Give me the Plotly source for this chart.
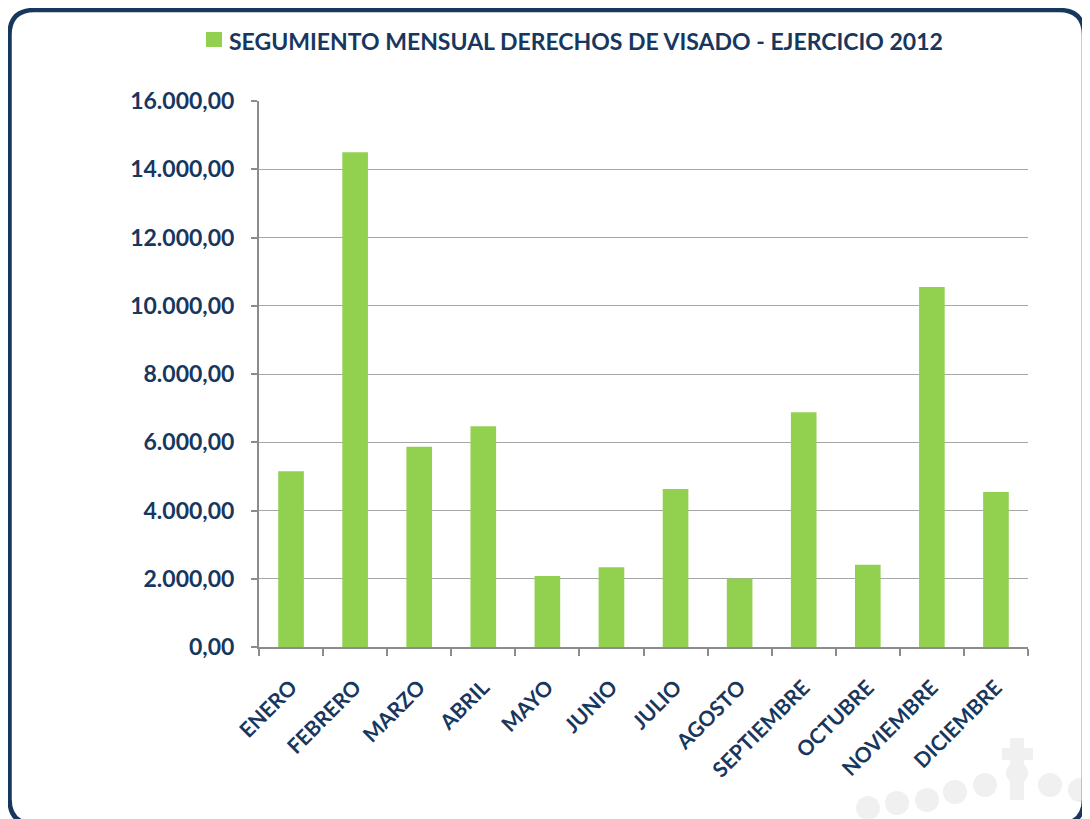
import plotly.graph_objects as go

months = ["ENERO", "FEBRERO", "MARZO", "ABRIL", "MAYO", "JUNIO", "JULIO",
          "AGOSTO", "SEPTIEMBRE", "OCTUBRE", "NOVIEMBRE", "DICIEMBRE"]
values = [5150, 14500, 5870, 6470, 2080, 2340, 4630, 2010, 6880, 2410, 10550, 4540]
y_ticks = [0, 2000, 4000, 6000, 8000, 10000, 12000, 14000, 16000]
y_tick_labels = ["0,00", "2.000,00", "4.000,00", "6.000,00", "8.000,00",
                 "10.000,00", "12.000,00", "14.000,00", "16.000,00"]
title = "SEGUMIENTO MENSUAL DERECHOS DE VISADO - EJERCICIO 2012"

# page has an 8px body margin; figure is sized to fit the window
OFF = 8
W, H = 1090 - OFF, 819 - OFF
L, R, T, B = 259 - OFF, 1090 - 1028, 101 - OFF, 819 - 647
pw, ph = W - L - R, H - T - B

def px2x(px):
    return (px - OFF - L) / pw

def py2y(py):
    return (H - B - (py - OFF)) / ph

navy = "#17375E"
green = "#92D050"
fontfam = "Lato, Open Sans, sans-serif"

fig = go.Figure()
fig.add_trace(go.Bar(x=months, y=values, marker=dict(color=green, line=dict(width=0)),
                     width=0.4, showlegend=False))

# faint watermark in lower right
wm = "#F0F0F0"
def wm_shape(kind, a, b, c, d):
    fig.add_shape(type=kind, xref="paper", yref="paper",
                  x0=px2x(a), x1=px2x(c), y0=py2y(b), y1=py2y(d),
                  fillcolor=wm, line=dict(width=0), layer="below")
wm_shape("circle", 860, 840, 1140, 900)
for cx, cy in [(868, 808), (897, 803), (927, 800), (955, 792), (985, 785),
               (1050, 785), (1080, 790)]:
    wm_shape("circle", cx - 12, cy - 12, cx + 12, cy + 12)
wm_shape("rect", 1010, 738, 1024, 800)
wm_shape("rect", 1002, 748, 1033, 760)
wm_shape("circle", 1006, 762, 1028, 784)

# rounded border
x0, x1 = px2x(9.5), px2x(1084)
y0, y1 = py2y(10), py2y(824)
rx, ry = 25 / pw, 25 / ph
path = (f"M {x0+rx},{y0} L {x1-rx},{y0} Q {x1},{y0} {x1},{y0-ry} "
        f"L {x1},{y1+ry} Q {x1},{y1} {x1-rx},{y1} "
        f"L {x0+rx},{y1} Q {x0},{y1} {x0},{y1+ry} "
        f"L {x0},{y0-ry} Q {x0},{y0} {x0+rx},{y0} Z")
fig.add_shape(type="path", path=path, xref="paper", yref="paper",
              line=dict(color=navy, width=4.5), fillcolor="rgba(0,0,0,0)", layer="above")

# legend-style title
fig.add_shape(type="rect", xref="paper", yref="paper",
              x0=px2x(206), x1=px2x(222), y0=py2y(32), y1=py2y(47),
              fillcolor=green, line=dict(width=0))
fig.add_annotation(
    text=f"<b>{title}</b>",
    xref="paper", yref="paper", x=px2x(227), y=py2y(41),
    xanchor="left", yanchor="middle", showarrow=False,
    font=dict(family=fontfam, size=23, color=navy))

fig.update_layout(
    width=W, height=H,
    margin=dict(l=L, r=R, t=T, b=B, autoexpand=False),
    paper_bgcolor="white", plot_bgcolor="rgba(0,0,0,0)",
    bargap=0.6,
    xaxis=dict(showgrid=False, showline=True, linecolor="#8C8C8C", linewidth=2,
               ticks="outside", tickson="boundaries", ticklen=7, tickwidth=2,
               tickcolor="#8C8C8C", tickangle=-45, ticklabelstandoff=18,
               tickfont=dict(family=fontfam, size=21, color=navy, weight="bold")),
    yaxis=dict(range=[0, 16000], tickvals=y_ticks, ticktext=y_tick_labels,
               showgrid=True, gridcolor="#A6A6A6", gridwidth=1,
               showline=True, linecolor="#8C8C8C", linewidth=2,
               ticks="outside", ticklen=6, tickwidth=2, tickcolor="#8C8C8C",
               zeroline=False, ticklabelstandoff=12,
               tickfont=dict(family=fontfam, size=23, color=navy, weight="bold")),
)

fig.write_html("out.html")
